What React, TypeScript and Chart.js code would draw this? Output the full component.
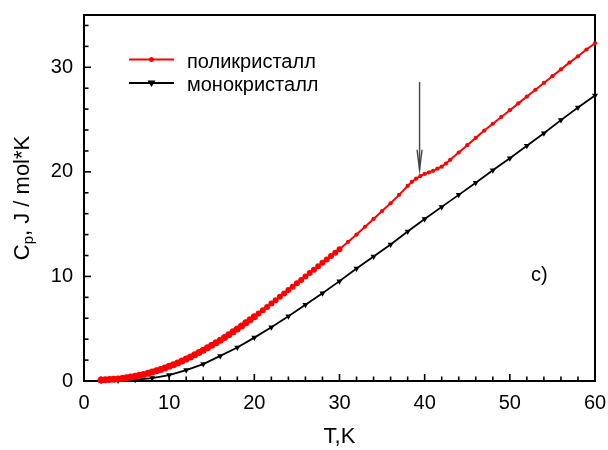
import React, { useEffect, useRef } from 'react';
import { Chart, registerables } from 'chart.js';

Chart.register(...registerables);

// ---- data ----
const polyT = [
  2, 2.5, 3, 3.5, 4, 4.5, 5, 5.5, 6, 6.5, 7, 7.5, 8, 8.5, 9, 9.5, 10, 10.5, 11, 11.5,
  12, 12.5, 13, 13.5, 14, 14.5, 15, 15.5, 16, 16.5, 17, 17.5, 18, 18.5, 19, 19.5, 20,
  20.5, 21, 21.5, 22, 22.5, 23, 23.5, 24, 24.5, 25, 25.5, 26, 26.5, 27, 27.5, 28, 28.5,
  29, 29.5, 30, 31, 32, 33, 34, 35, 36, 37, 38, 38.5, 39, 39.5, 40, 40.5, 41, 41.5, 42,
  42.5, 43, 44, 45, 46, 47, 48, 49, 50, 51, 52, 53, 54, 55, 56, 57, 58, 59, 60,
];
const polyCp = [
  0.1, 0.12, 0.14, 0.17, 0.2, 0.25, 0.31, 0.38, 0.45, 0.54, 0.63, 0.74, 0.85, 0.98, 1.1, 1.25, 1.4, 1.56, 1.73, 1.91,
  2.1, 2.3, 2.51, 2.73, 2.95, 3.18, 3.42, 3.66, 3.9, 4.16, 4.42, 4.7, 4.98, 5.27, 5.56, 5.86, 6.15,
  6.46, 6.77, 7.08, 7.4, 7.72, 8.05, 8.37, 8.7, 9.02, 9.35, 9.67, 10.0, 10.32, 10.65, 10.97, 11.3, 11.62,
  11.95, 12.27, 12.6, 13.3, 14.0, 14.75, 15.5, 16.25, 17.0, 17.8, 18.65, 19.05, 19.35, 19.6, 19.8, 19.95, 20.1, 20.3, 20.5,
  20.8, 21.15, 21.85, 22.55, 23.25, 23.95, 24.6, 25.25, 25.9, 26.55, 27.2, 27.85, 28.5, 29.15, 29.8, 30.45, 31.05, 31.7, 32.3,
];

const monoT = [2, 4, 6, 8, 10, 12, 14, 16, 18, 20, 22, 24, 26, 28, 30, 32, 34, 36, 38, 40, 42, 44, 46, 48, 50, 52, 54, 56, 58, 60];
const monoCp = [
  0.02, 0.05, 0.12, 0.28, 0.57, 1.05, 1.62, 2.4, 3.2, 4.15, 5.15, 6.2, 7.3, 8.4, 9.55,
  10.75, 11.9, 13.05, 14.3, 15.5, 16.65, 17.8, 18.95, 20.15, 21.3, 22.5, 23.7, 24.95, 26.15, 27.3,
];

const seriesNames = ['поликристалл', 'монокристалл'];
const xTickValues = [0, 10, 20, 30, 40, 50, 60];
const yTickValues = [0, 10, 20, 30];
const xMin = 0;
const xMax = 60;
const yMin = 0;
const yMax = 35;
const xMinorStep = 2;
const yMinorStep = 2;
const xTitle = 'T,K';
const yTitleMain = 'C';
const yTitleSub = 'p';
const yTitleRest = ', J / mol*K';
const panelLabel = 'c)';
const arrowT = 39.4;
const arrowFromCp = 28.6;
const arrowToCp = 20.2;

const FONT = '"Liberation Sans", Arial, Helvetica, sans-serif';
const RED = '#ff0000';
const BLACK = '#000000';

const framePlugin = {
  id: 'frameTicks',
  beforeDatasetsDraw(chart: any) {
    const { ctx, chartArea, scales } = chart;
    const { left, right, top, bottom } = chartArea;
    const xs = scales.x;
    const ys = scales.y;
    ctx.save();
    ctx.strokeStyle = BLACK;
    ctx.lineWidth = 1.6;
    for (let v = xMin; v <= xMax + 1e-9; v += xMinorStep) {
      const px = xs.getPixelForValue(v);
      const len = Math.abs(v % 10) < 1e-9 ? 7 : 4.5;
      ctx.beginPath();
      ctx.moveTo(px, bottom);
      ctx.lineTo(px, bottom - len);
      ctx.stroke();
    }
    for (let v = yMin; v <= yMax - 1 + 1e-9; v += yMinorStep) {
      const py = ys.getPixelForValue(v);
      const len = Math.abs(v % 10) < 1e-9 ? 7 : 4.5;
      ctx.beginPath();
      ctx.moveTo(left, py);
      ctx.lineTo(left + len, py);
      ctx.stroke();
    }
    ctx.lineWidth = 2;
    ctx.strokeRect(left, top, right - left, bottom - top);
    ctx.restore();
  },
  afterDraw(chart: any) {
    const { ctx, chartArea, scales } = chart;
    const xs = scales.x;
    const ys = scales.y;
    ctx.save();
    // y title with subscript
    const cy = (chartArea.top + chartArea.bottom) / 2;
    const cx = 21;
    ctx.translate(cx, cy);
    ctx.rotate(-Math.PI / 2);
    const mainFont = `22px ${FONT}`;
    const subFont = `15px ${FONT}`;
    ctx.font = mainFont;
    const wC = ctx.measureText(yTitleMain).width;
    const wR = ctx.measureText(yTitleRest).width;
    ctx.font = subFont;
    const wP = ctx.measureText(yTitleSub).width;
    const total = wC + wP + wR;
    let x0 = -total / 2;
    ctx.fillStyle = BLACK;
    ctx.textBaseline = 'alphabetic';
    const base = 8;
    ctx.font = mainFont;
    ctx.fillText(yTitleMain, x0, base);
    x0 += wC;
    ctx.font = subFont;
    ctx.fillText(yTitleSub, x0, base + 4);
    x0 += wP;
    ctx.font = mainFont;
    ctx.fillText(yTitleRest, x0, base);
    ctx.restore();

    // legend
    ctx.save();
    const rows = [
      { y: 59.5, color: RED, marker: 'circle' },
      { y: 83, color: BLACK, marker: 'tri' },
    ];
    rows.forEach((r, i) => {
      ctx.strokeStyle = r.color;
      ctx.fillStyle = r.color;
      ctx.lineWidth = 2;
      ctx.beginPath();
      ctx.moveTo(129, r.y);
      ctx.lineTo(174, r.y);
      ctx.stroke();
      ctx.beginPath();
      if (r.marker === 'circle') {
        ctx.arc(151.5, r.y, 2.5, 0, Math.PI * 2);
      } else {
        ctx.moveTo(147.5, r.y - 2.5);
        ctx.lineTo(155.5, r.y - 2.5);
        ctx.lineTo(151.5, r.y + 4);
        ctx.closePath();
      }
      ctx.fill();
      ctx.fillStyle = BLACK;
      ctx.font = `20px ${FONT}`;
      ctx.textBaseline = 'alphabetic';
      ctx.fillText(seriesNames[i], 187, r.y + 8);
    });

    // panel label
    ctx.font = `20px ${FONT}`;
    ctx.fillText(panelLabel, 531, 281);

    // arrow
    const ax = xs.getPixelForValue(arrowT);
    const ay0 = ys.getPixelForValue(arrowFromCp);
    const ay1 = ys.getPixelForValue(arrowToCp);
    ctx.strokeStyle = '#444444';
    ctx.lineWidth = 1.4;
    ctx.beginPath();
    ctx.moveTo(ax, ay0);
    ctx.lineTo(ax, ay1);
    ctx.stroke();
    ctx.beginPath();
    ctx.moveTo(ax - 2.5, ay1 - 20);
    ctx.lineTo(ax, ay1);
    ctx.lineTo(ax + 2.5, ay1 - 20);
    ctx.stroke();
    ctx.restore();
  },
};

export default function App() {
  const ref = useRef<HTMLCanvasElement | null>(null);
  useEffect(() => {
    if (!ref.current) return;
    const chart = new Chart(ref.current, {
      type: 'scatter',
      data: {
        datasets: [
          {
            label: seriesNames[0],
            data: polyT.map((t, i) => ({ x: t, y: polyCp[i] })),
            showLine: true,
            borderColor: RED,
            backgroundColor: RED,
            borderWidth: 2,
            pointStyle: 'circle',
            pointRadius: (c: any) => {
              const t = c.raw ? c.raw.x : 0;
              return t <= 20 ? 3.5 : t <= 30 ? 3 : 2.1;
            },
            pointBorderWidth: 0,
            clip: false as any,
            order: 1,
          },
          {
            label: seriesNames[1],
            data: monoT.map((t, i) => ({ x: t, y: monoCp[i] })),
            showLine: true,
            borderColor: BLACK,
            backgroundColor: BLACK,
            borderWidth: 1.8,
            pointStyle: 'triangle',
            rotation: 180,
            pointRadius: 3.5,
            pointBorderWidth: 0,
            clip: false as any,
            order: 2,
          },
        ],
      },
      options: {
        animation: false,
        responsive: false,
        events: [],
        layout: { padding: { top: 15, right: 13, left: 0, bottom: 0 } },
        plugins: { legend: { display: false }, tooltip: { enabled: false } },
        scales: {
          x: {
            type: 'linear',
            min: xMin,
            max: xMax,
            grid: { display: false, drawTicks: false },
            border: { display: false },
            afterBuildTicks: (s: any) => {
              s.ticks = xTickValues.map((v) => ({ value: v }));
            },
            afterFit: (s: any) => {
              s.height = 69;
              s.paddingLeft = 0;
              s.paddingRight = 0;
              s.paddingTop = 0;
              s.paddingBottom = 0;
            },
            ticks: {
              color: BLACK,
              padding: 10,
              maxRotation: 0,
              autoSkip: false,
              font: { family: FONT, size: 20 },
            },
            title: {
              display: true,
              text: xTitle,
              color: BLACK,
              padding: { top: 0, bottom: 0 },
              font: { family: FONT, size: 22 },
            },
          },
          y: {
            type: 'linear',
            min: yMin,
            max: yMax,
            grid: { display: false, drawTicks: false },
            border: { display: false },
            afterBuildTicks: (s: any) => {
              s.ticks = yTickValues.map((v) => ({ value: v }));
            },
            afterFit: (s: any) => {
              s.width = 84;
              s.paddingLeft = 0;
              s.paddingRight = 0;
              s.paddingTop = 0;
              s.paddingBottom = 0;
            },
            ticks: {
              color: BLACK,
              padding: 11,
              autoSkip: false,
              font: { family: FONT, size: 20 },
            },
          },
        },
      },
      plugins: [framePlugin],
    });
    return () => chart.destroy();
  }, []);
  return (
    <div style={{ position: 'absolute', left: 0, top: 0, width: 608, height: 450, background: '#ffffff' }}>
      <canvas ref={ref} width={608} height={450} />
    </div>
  );
}
